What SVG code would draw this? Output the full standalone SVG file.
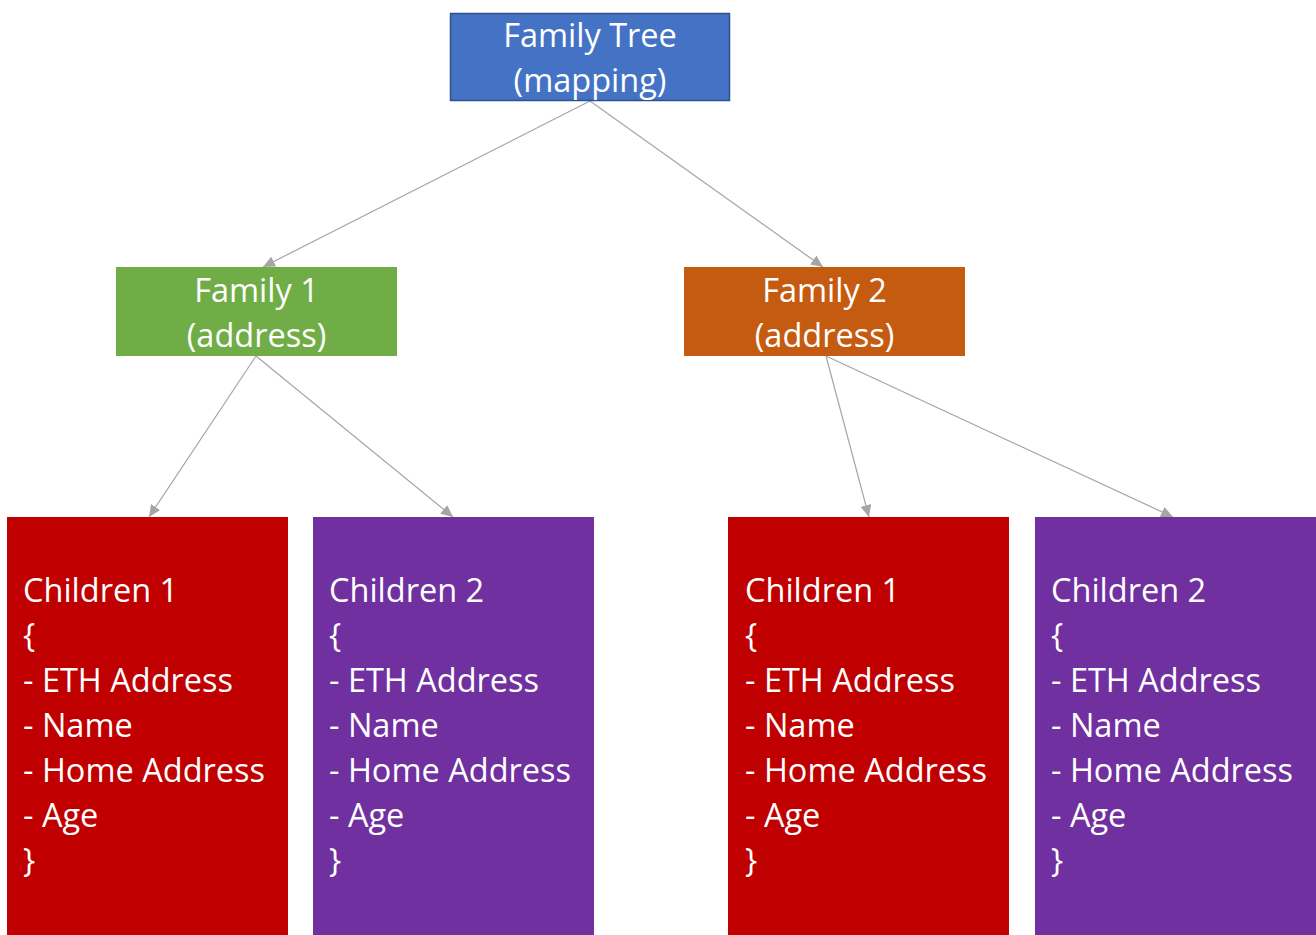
<svg xmlns="http://www.w3.org/2000/svg" width="1316" height="935" viewBox="0 0 1316 935">
<style>
.t{font-family:"Open Sans","Noto Sans","Liberation Sans",sans-serif;font-size:32.5px;fill:#fff}
.c{text-anchor:middle}
.conn{stroke:#A5A5A5;stroke-width:1.2;fill:none;marker-end:url(#ah)}
</style>
<defs>
<marker id="ah" markerUnits="userSpaceOnUse" markerWidth="12" markerHeight="11" refX="12" refY="5.5" orient="auto" viewBox="0 0 12 11">
<path d="M0,0 L12,5.5 L0,11 z" fill="#A5A5A5"/>
</marker>
</defs>
<rect width="1316" height="935" fill="#fff"/>
<g id="connectors">
<line class="conn" x1="590" y1="101" x2="263" y2="267"/>
<line class="conn" x1="590" y1="101" x2="823" y2="267"/>
<line class="conn" x1="256" y1="356" x2="149" y2="517"/>
<line class="conn" x1="256" y1="356" x2="453" y2="517"/>
<line class="conn" x1="826" y1="356" x2="869" y2="517"/>
<line class="conn" x1="826" y1="356" x2="1173" y2="517"/>
</g>
<g id="family-tree">
<rect x="450.5" y="13.5" width="279" height="87" fill="#4472C4" stroke="#2F528F" stroke-width="1.5"/>
<text class="t c" x="590" y="47">Family Tree</text>
<text class="t c" x="590" y="92">(mapping)</text>
</g>
<g id="family1">
<rect x="116" y="267" width="281" height="89" fill="#70AD47"/>
<text class="t c" x="256.5" y="302">Family 1</text>
<text class="t c" x="256.5" y="347">(address)</text>
</g>
<g id="family2">
<rect x="684" y="267" width="281" height="89" fill="#C55A11"/>
<text class="t c" x="824.5" y="302">Family 2</text>
<text class="t c" x="824.5" y="347">(address)</text>
</g>
<g id="f1-children1">
<rect x="7" y="517" width="281" height="418" fill="#C00000"/>
<text class="t" x="23" y="602">Children 1</text>
<text class="t" x="23" y="647">{</text>
<text class="t" x="23" y="692">- ETH Address</text>
<text class="t" x="23" y="737">- Name</text>
<text class="t" x="23" y="782">- Home Address</text>
<text class="t" x="23" y="827">- Age</text>
<text class="t" x="23" y="872">}</text>
</g>
<g id="f1-children2">
<rect x="313" y="517" width="281" height="418" fill="#7030A0"/>
<text class="t" x="329" y="602">Children 2</text>
<text class="t" x="329" y="647">{</text>
<text class="t" x="329" y="692">- ETH Address</text>
<text class="t" x="329" y="737">- Name</text>
<text class="t" x="329" y="782">- Home Address</text>
<text class="t" x="329" y="827">- Age</text>
<text class="t" x="329" y="872">}</text>
</g>
<g id="f2-children1">
<rect x="728" y="517" width="281" height="418" fill="#C00000"/>
<text class="t" x="745" y="602">Children 1</text>
<text class="t" x="745" y="647">{</text>
<text class="t" x="745" y="692">- ETH Address</text>
<text class="t" x="745" y="737">- Name</text>
<text class="t" x="745" y="782">- Home Address</text>
<text class="t" x="745" y="827">- Age</text>
<text class="t" x="745" y="872">}</text>
</g>
<g id="f2-children2">
<rect x="1035" y="517" width="281" height="418" fill="#7030A0"/>
<text class="t" x="1051" y="602">Children 2</text>
<text class="t" x="1051" y="647">{</text>
<text class="t" x="1051" y="692">- ETH Address</text>
<text class="t" x="1051" y="737">- Name</text>
<text class="t" x="1051" y="782">- Home Address</text>
<text class="t" x="1051" y="827">- Age</text>
<text class="t" x="1051" y="872">}</text>
</g>
</svg>
